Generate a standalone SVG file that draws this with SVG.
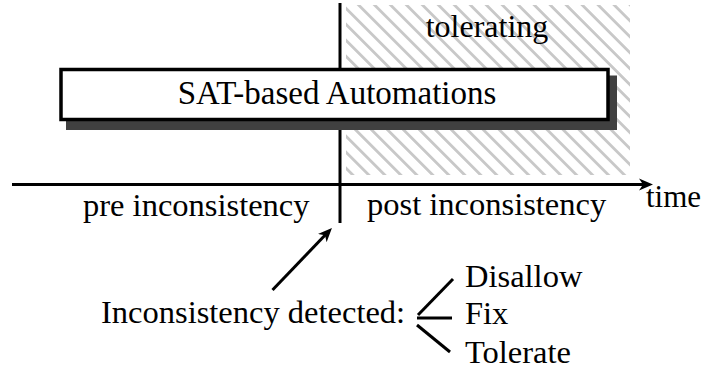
<svg xmlns="http://www.w3.org/2000/svg" width="701" height="374" viewBox="0 0 701 374">
  <style>
    .t { font-family: "Liberation Serif", "Times New Roman", serif; font-size: 32.5px; fill: #000; }
    .ln { stroke: #000; stroke-width: 3; fill: none; }
  </style>
  <defs>
    <pattern id="hatch" patternUnits="userSpaceOnUse" width="11.3" height="11.3" patternTransform="rotate(-45)">
      <rect x="0" y="0" width="2.8" height="11.3" fill="#c8c8c8"/>
    </pattern>
    <marker id="head" markerUnits="userSpaceOnUse" markerWidth="16" markerHeight="14" viewBox="0 -7 16 14" refX="8" refY="0" orient="auto">
      <path d="M0,-6 L14,0 L0,6 L4,0 Z" fill="#000"/>
    </marker>
  </defs>

  <!-- tolerating phase (hatched) -->
  <g id="tolerating">
    <rect x="346" y="5" width="284" height="170" fill="url(#hatch)"/>
    <text class="t" x="487" y="37" text-anchor="middle" style="font-size:32px">tolerating</text>
  </g>

  <!-- timeline and pointers, drawn beneath the automation bar -->
  <g id="connectors">
    <path class="ln" d="M12,184.5 H647" marker-end="url(#head)"/>
    <path class="ln" d="M340,3 V223"/>
    <path class="ln" d="M272.5,290 L327.8,232.3" marker-end="url(#head)"/>
    <path class="ln" d="M418,315 L453,279"/>
    <path class="ln" d="M417,318 H452"/>
    <path class="ln" d="M417,325 L450,352"/>
  </g>

  <!-- automation bar with drop shadow -->
  <g id="sat-automations">
    <rect x="66" y="75.5" width="551" height="54.5" fill="#404040"/>
    <rect x="61" y="69.5" width="547" height="50" fill="#fff" stroke="#000" stroke-width="3.5"/>
    <text class="t" x="337" y="104" text-anchor="middle" style="font-size:33px">SAT-based Automations</text>
  </g>

  <g id="labels">
    <text class="t" x="83" y="216">pre inconsistency</text>
    <text class="t" x="367" y="215">post inconsistency</text>
    <text class="t" x="646" y="207" style="font-size:31px">time</text>
  </g>

  <g id="detected">
    <text class="t" x="101" y="323">Inconsistency detected:</text>
  </g>
  <g id="disallow"><text class="t" x="465" y="287">Disallow</text></g>
  <g id="fix"><text class="t" x="465" y="324">Fix</text></g>
  <g id="tolerate"><text class="t" x="465" y="363">Tolerate</text></g>
</svg>
